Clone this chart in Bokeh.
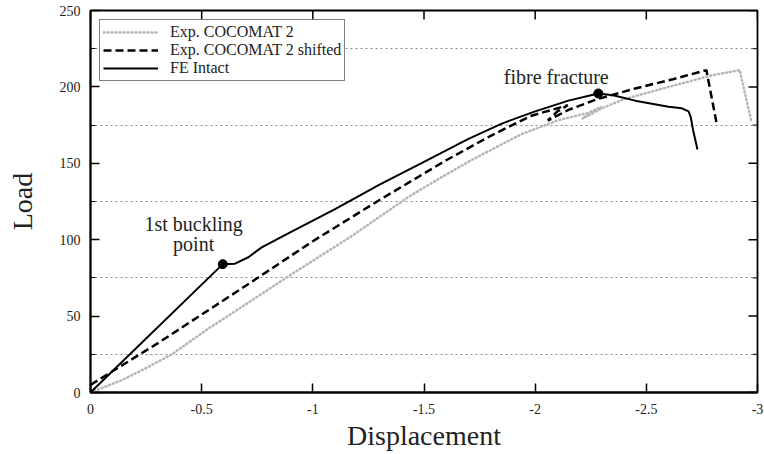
from bokeh.plotting import figure
from bokeh.models import Range1d, FixedTicker, Label, Legend, LegendItem
from bokeh.embed import file_html
from bokeh.resources import INLINE

# ---- data ----
exp_x = [0, -0.14, -0.25, -0.366, -0.532, -0.712, -0.9, -1.171, -1.43, -1.58, -1.712, -1.937,
         -2.10, -2.237, -2.30, -2.25, -2.21, -2.30, -2.40, -2.60, -2.793, -2.92, -2.973]
exp_y = [0, 8, 16, 25, 42, 59, 77, 102, 128, 141, 152, 169,
         178, 183, 187, 183, 179, 186, 192, 200, 207.5, 211, 177]

shift_x = [0, -0.3, -0.7, -1.0, -1.3, -1.6, -1.8, -1.98, -2.147, -2.10, -2.057,
           -2.15, -2.28, -2.45, -2.62, -2.77, -2.815]
shift_y = [5, 32, 70, 99, 126, 152, 168, 181, 188, 184, 178,
           185, 192, 199, 205, 211, 177]

fe_x = [0, -0.595, -0.65, -0.71, -0.77, -0.9, -1.1, -1.3, -1.5, -1.7, -1.85, -2.0,
        -2.15, -2.284, -2.35, -2.45, -2.6, -2.66, -2.69, -2.70, -2.71, -2.73]
fe_y = [0, 84, 84.3, 88.5, 95, 105, 120, 136, 151, 166, 176, 184,
        191, 195.7, 194.5, 191, 187, 186, 184, 180, 172, 159]

event_x = [-0.595, -2.284]
event_y = [84, 195.7]

x_ticks = [0, -0.5, -1, -1.5, -2, -2.5, -3]
x_tick_labels = ["0", "-0.5", "-1", "-1.5", "-2", "-2.5", "-3"]
y_ticks = [0, 50, 100, 150, 200, 250]
y_tick_labels = ["0", "50", "100", "150", "200", "250"]
y_minor = [25, 75, 125, 175, 225]

FONT = "Liberation Serif"
FW, FH = 667, 382
X0, X1, Y0, Y1 = 0, -3, 0, 250

p = figure(frame_width=FW, frame_height=FH,
           x_range=Range1d(X0, X1), y_range=Range1d(Y0, Y1),
           output_backend="svg", toolbar_location=None,
           min_border_left=90, min_border_right=7, min_border_top=10,
           min_border_bottom=50)

p.outline_line_color = "black"
p.outline_line_width = 1.8
p.xgrid.visible = False
p.ygrid.ticker = FixedTicker(ticks=y_minor)
p.ygrid.grid_line_color = "#8a8a8a"
p.ygrid.grid_line_dash = "2 3"
p.ygrid.grid_line_width = 1

xb = p.xaxis[0]
xb.ticker = FixedTicker(ticks=x_ticks, minor_ticks=[])
xb.major_label_overrides = {t: l for t, l in zip(x_ticks, x_tick_labels)}
yl = p.yaxis[0]
yl.ticker = FixedTicker(ticks=y_ticks, minor_ticks=y_minor)
yl.major_label_overrides = {t: l for t, l in zip(y_ticks, y_tick_labels)}

for ax in (xb, yl):
    ax.axis_line_color = "black"
    ax.axis_line_width = 1.8
    ax.major_tick_in = 9
    ax.major_tick_out = 0
    ax.minor_tick_in = 5
    ax.minor_tick_out = 0
    ax.major_tick_line_width = 1.5
    ax.major_label_text_font = FONT
    ax.major_label_text_font_size = "14px"
    ax.major_label_text_color = "#222222"
    ax.major_label_standoff = 10
    ax.axis_label_text_font = FONT
    ax.axis_label_text_font_size = "28px"
    ax.axis_label_text_font_style = "normal"
    ax.axis_label_text_color = "#222222"

xb.major_label_standoff = 11
xb.axis_label = "Displacement"
xb.axis_label_standoff = 3
yl.axis_label = "Load"
yl.axis_label_standoff = 19

# mirrored inward ticks on the top and right frame edges
dx = (X0 - X1) / FW   # data units per pixel (x reversed)
dy = (Y1 - Y0) / FH
p.segment(x0=x_ticks, x1=x_ticks, y0=[Y1] * len(x_ticks),
          y1=[Y1 - 9 * dy] * len(x_ticks), line_color="black", line_width=1.5)
p.segment(x0=[X1] * len(y_ticks), x1=[X1 + 9 * dx] * len(y_ticks),
          y0=y_ticks, y1=y_ticks, line_color="black", line_width=1.5)
p.segment(x0=[X1] * len(y_minor), x1=[X1 + 5 * dx] * len(y_minor),
          y0=y_minor, y1=y_minor, line_color="black", line_width=1)

r_exp = p.line(exp_x, exp_y, line_color="#b5b5b5", line_width=2.5,
               line_dash="1 3", line_cap="round")
r_shift = p.line(shift_x, shift_y, line_color="black", line_width=2.5,
                 line_dash="8 4")
r_fe = p.line(fe_x, fe_y, line_color="black", line_width=2)
p.scatter(event_x, event_y, size=9, color="black")

for txt, xx, yy in [("1st buckling", -0.464, 110), ("point", -0.464, 97.5),
                    ("fibre fracture", -2.095, 206.5)]:
    p.add_layout(Label(x=xx, y=yy, text=txt, text_align="center",
                       text_baseline="middle", text_font=FONT,
                       text_font_size="20px", text_color="#222222"))

legend = Legend(items=[LegendItem(label="Exp. COCOMAT 2", renderers=[r_exp]),
                       LegendItem(label="Exp. COCOMAT 2 shifted", renderers=[r_shift]),
                       LegendItem(label="FE Intact", renderers=[r_fe])],
                location="top_left")
legend.margin = 9
legend.padding = 3
legend.spacing = 0
legend.label_height = 16
legend.glyph_height = 16
legend.glyph_width = 55
legend.label_standoff = 12
legend.label_text_font = FONT
legend.label_text_font_size = "16px"
legend.label_text_line_height = 1.0
legend.label_text_color = "#222222"
legend.border_line_color = "black"
legend.border_line_width = 1.5
legend.border_radius = 0
legend.background_fill_alpha = 1
p.add_layout(legend, "center")

open("out.html", "w").write(file_html(p, INLINE))
